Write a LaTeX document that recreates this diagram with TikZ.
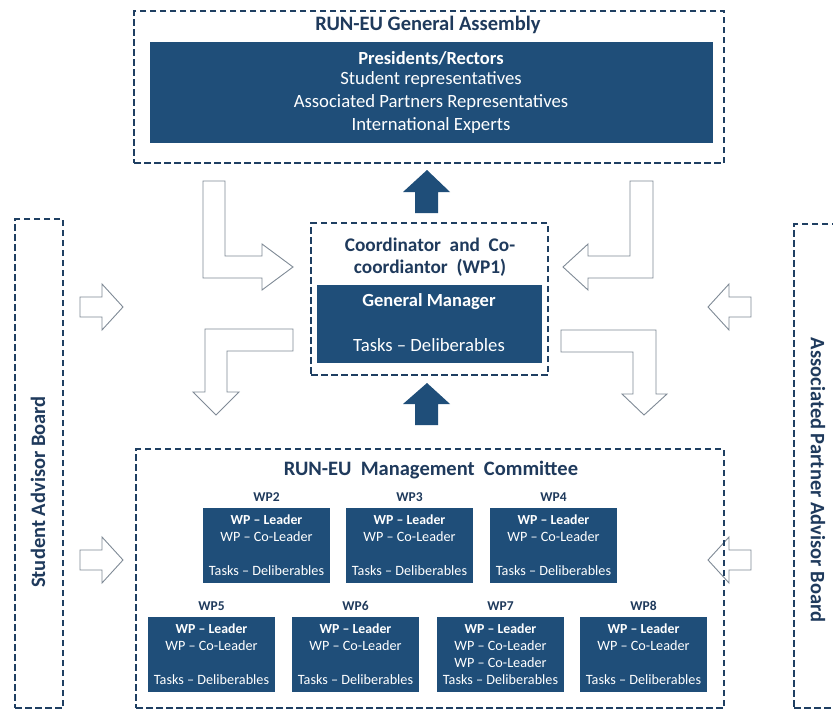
\documentclass[tikz,border=0pt]{standalone}
\usepackage{fontspec}
\setmainfont{Carlito}
\definecolor{boxblue}{HTML}{1F4E79}
\definecolor{navy}{HTML}{1F3A5C}
\definecolor{dashc}{HTML}{1F3F62}
\definecolor{arrowgrey}{HTML}{7F8A96}
\begin{document}
\begin{tikzpicture}[x=1pt,y=-1pt,
  dashbox/.style={draw=dashc, line width=2.4pt, dash pattern=on 6.5pt off 3.5pt, inner sep=0pt},
  fillbox/.style={fill=boxblue, inner sep=0pt},
  outarrow/.style={draw=arrowgrey, fill=white, line width=0.9pt, line join=miter},
  solidarrow/.style={fill=boxblue},
  ttl/.style={text=navy, font=\bfseries\fontsize{20.5}{24}\selectfont, inner sep=0pt},
  cot/.style={text=navy, font=\bfseries\fontsize{19.3}{23}\selectfont, inner sep=0pt},
  wht/.style={text=white, inner sep=0pt},
  big/.style={wht, font=\fontsize{18.7}{22}\selectfont},
  bigb/.style={wht, font=\bfseries\fontsize{18.5}{22}\selectfont},
  sm/.style={wht, font=\fontsize{14.2}{17}\selectfont},
  smb/.style={wht, font=\bfseries\fontsize{13.8}{17}\selectfont},
  wplab/.style={text=navy, font=\bfseries\fontsize{13.5}{16}\selectfont, inner sep=0pt},
  wp/.style={fillbox, minimum width=127pt, minimum height=75pt, anchor=north west},
  side/.style={text=navy, font=\bfseries\fontsize{20.5}{24}\selectfont, inner sep=0pt}
]
\clip (0,0) rectangle (833,709);
\fill[white] (0,0) rectangle (833,709);

% General Assembly
\node[dashbox, minimum width=590pt, minimum height=152pt, anchor=north west] (ga) at (133,10) {};
\node[ttl] (gat) at (428,25) {RUN-EU General Assembly};
\node[fillbox, minimum width=563pt, minimum height=101pt, anchor=north west] (gain) at (150,42) {};
\node[bigb] (ga1) at (431,58) {Presidents/Rectors};
\node[big] (ga2) at (431,80) {Student representatives};
\node[big] (ga3) at (431,103) {Associated Partners Representatives};
\node[big] (ga4) at (431,126) {International Experts};

% up arrows (solid)
\fill[solidarrow] (415,213) -- (415,192) -- (403,192) -- (427,170) -- (450,192) -- (438,192) -- (438,213) -- cycle;
\fill[solidarrow] (415,425) -- (415,404) -- (403,404) -- (427,383) -- (450,404) -- (438,404) -- (438,425) -- cycle;

% Coordinator
\node[dashbox, minimum width=237pt, minimum height=152pt, anchor=north west] (co) at (310,222) {};
\node[cot] (co1) at (430,245) {Coordinator\ \ and\ \ Co-};
\node[cot] (co2) at (430,268) {coordiantor\ \ (WP1)};
\node[fillbox, minimum width=225pt, minimum height=78pt, anchor=north west] (gm) at (317,285) {};
\node[bigb] (gm1) at (429,302) {General Manager};
\node[big] (gm2) at (429,345) {Tasks -- Deliberables};

% bent arrows
\draw[outarrow] (203,181) -- (225,181) -- (225,256) -- (262,256) -- (262,244) -- (293,267) -- (262,290) -- (262,278) -- (203,278) -- cycle;
\draw[outarrow] (653,181) -- (630,181) -- (630,256) -- (588,256) -- (588,244) -- (563,267) -- (588,290) -- (588,278) -- (653,278) -- cycle;
\draw[outarrow] (293,329) -- (205,329) -- (205,392) -- (193,392) -- (216,415) -- (239,392) -- (227,392) -- (227,351) -- (293,351) -- cycle;
\draw[outarrow] (561,330) -- (656,330) -- (656,394) -- (667,394) -- (644,415) -- (622,394) -- (633,394) -- (633,352) -- (561,352) -- cycle;

% side arrows
\draw[outarrow] (80,297) -- (102,297) -- (102,284) -- (123,307) -- (102,330) -- (102,317) -- (80,317) -- cycle;
\draw[outarrow] (80,550) -- (102,550) -- (102,537) -- (123,560) -- (102,583) -- (102,570) -- (80,570) -- cycle;
\draw[outarrow] (751,297) -- (729,297) -- (729,284) -- (708,307) -- (729,330) -- (729,317) -- (751,317) -- cycle;
\draw[outarrow] (751,550) -- (729,550) -- (729,537) -- (708,560) -- (729,583) -- (729,570) -- (751,570) -- cycle;

% side boards
\node[dashbox, minimum width=48pt, minimum height=489pt, anchor=north west] (sab) at (14,218) {};
\node[side, rotate=90] (sabt) at (38,492) {Student\ Advisor\ Board};
\node[dashbox, minimum width=70pt, minimum height=484pt, anchor=north west] (apb) at (793,223) {};
\node[side, rotate=-90] (apbt) at (818,480) {Associated Partner Advisor Board};

% Management committee
\node[dashbox, minimum width=588pt, minimum height=259pt, anchor=north west] (mc) at (135,448) {};
\node[ttl] (mct) at (431,470) {RUN-EU\ \ Management\ \ Committee};

% row 1
\foreach \n/\x in {2/203,3/346,4/490}{
  \node[wp] (wp\n) at (\x,508) {};
  \node[wplab] (wpl\n) at (\x+63.5,497) {WP\n};
  \node[smb] (wpa\n) at (\x+63.5,520) {WP -- Leader};
  \node[sm] (wpb\n) at (\x+63.5,537) {WP -- Co-Leader};
  \node[sm] (wpc\n) at (\x+63.5,571) {Tasks -- Deliberables};
}
% row 2
\foreach \n/\x in {5/148,6/292,7/437,8/580}{
  \node[wp] (wp\n) at (\x,617) {};
  \node[wplab] (wpl\n) at (\x+63.5,606) {WP\n};
  \node[smb] (wpa\n) at (\x+63.5,629) {WP -- Leader};
  \node[sm] (wpb\n) at (\x+63.5,646) {WP -- Co-Leader};
  \node[sm] (wpc\n) at (\x+63.5,680) {Tasks -- Deliberables};
}
\node[sm] (wpd7) at (500.5,663) {WP -- Co-Leader};
\end{tikzpicture}
\end{document}
